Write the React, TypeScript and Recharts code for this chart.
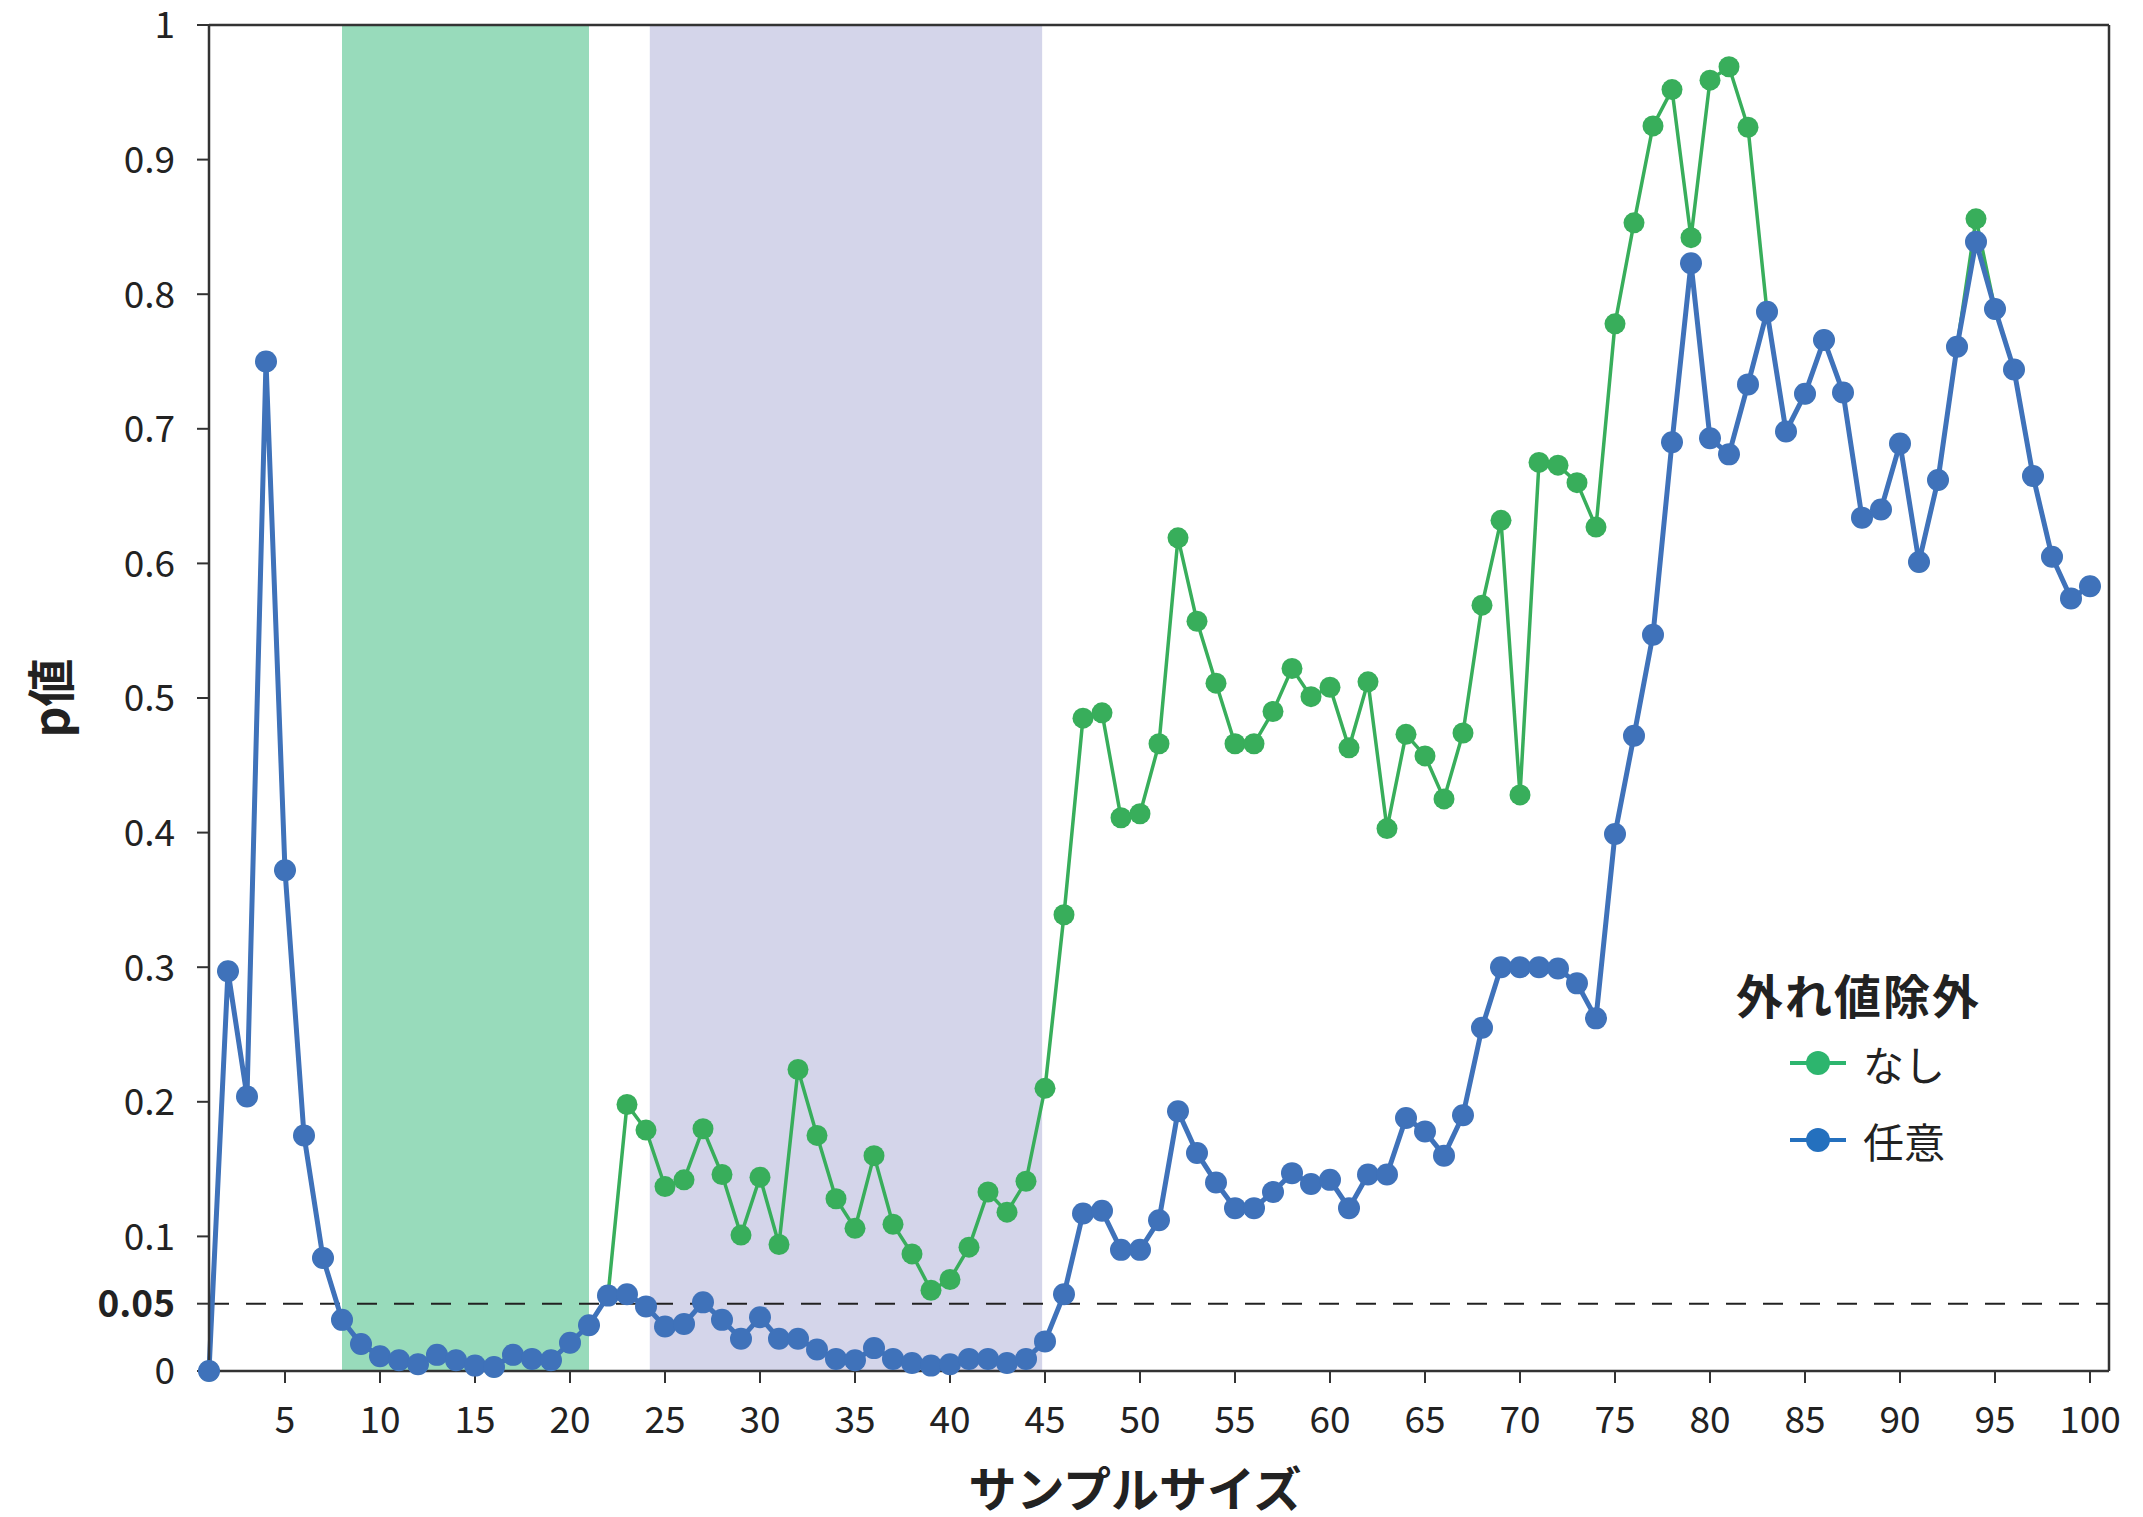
import { LineChart, Line, XAxis, YAxis, ReferenceArea, ReferenceLine } from 'recharts';

const FONT = "'Noto Sans CJK JP', 'Noto Sans', sans-serif";

// sample size 1..100 (category index only)
const sampleSizes = Array.from({ length: 100 }, (_, i) => i + 1);

// 外れ値除外: 任意
const pAny = [
  0, 0.297, 0.204, 0.75, 0.372, 0.175, 0.084, 0.038, 0.02, 0.011,
  0.008, 0.005, 0.012, 0.008, 0.004, 0.003, 0.012, 0.009, 0.008, 0.021,
  0.034, 0.056, 0.057, 0.048, 0.033, 0.035, 0.051, 0.038, 0.024, 0.04,
  0.024, 0.024, 0.016, 0.009, 0.008, 0.017, 0.009, 0.006, 0.004, 0.005,
  0.009, 0.009, 0.006, 0.009, 0.022, 0.057, 0.117, 0.119, 0.09, 0.09,
  0.112, 0.193, 0.162, 0.14, 0.121, 0.121, 0.133, 0.147, 0.139, 0.142,
  0.121, 0.146, 0.146, 0.188, 0.178, 0.16, 0.19, 0.255, 0.3, 0.3,
  0.3, 0.299, 0.288, 0.262, 0.399, 0.472, 0.547, 0.69, 0.823, 0.693,
  0.681, 0.733, 0.787, 0.698, 0.726, 0.766, 0.727, 0.634, 0.64, 0.689,
  0.601, 0.662, 0.761, 0.839, 0.789, 0.744, 0.665, 0.605, 0.574, 0.583,
];

// 外れ値除外: なし
const pNone = [
  0, 0.297, 0.204, 0.75, 0.372, 0.175, 0.084, 0.038, 0.02, 0.011,
  0.008, 0.005, 0.012, 0.008, 0.004, 0.003, 0.012, 0.009, 0.008, 0.021,
  0.034, 0.056, 0.198, 0.179, 0.137, 0.142, 0.18, 0.146, 0.101, 0.144,
  0.094, 0.224, 0.175, 0.128, 0.106, 0.16, 0.109, 0.087, 0.06, 0.068,
  0.092, 0.133, 0.118, 0.141, 0.21, 0.339, 0.485, 0.489, 0.411, 0.414,
  0.466, 0.619, 0.557, 0.511, 0.466, 0.466, 0.49, 0.522, 0.501, 0.508,
  0.463, 0.512, 0.403, 0.473, 0.457, 0.425, 0.474, 0.569, 0.632, 0.428,
  0.675, 0.673, 0.66, 0.627, 0.778, 0.853, 0.925, 0.952, 0.842, 0.959,
  0.969, 0.924, 0.787, 0.698, 0.726, 0.766, 0.727, 0.634, 0.64, 0.689,
  0.601, 0.662, 0.761, 0.856, 0.789, 0.744, 0.665, 0.605, 0.574, 0.583,
];

const xTicks = [5, 10, 15, 20, 25, 30, 35, 40, 45, 50, 55, 60, 65, 70, 75, 80, 85, 90, 95, 100];
const yTicks = [0, 0.05, 0.1, 0.2, 0.3, 0.4, 0.5, 0.6, 0.7, 0.8, 0.9, 1];

const greenBand = [8, 21];
const purpleBand = [24.2, 44.85];

const legendItems = [
  { name: 'なし', color: '#2DB56E' },
  { name: '任意', color: '#2470BE' },
];

const data = sampleSizes.map((n, i) => ({ n, none: pNone[i], any: pAny[i] }));

const YTick = ({ x, y, payload }: any) => (
  <text
    x={x - 20}
    y={y}
    dy="0.36em"
    textAnchor="end"
    fontSize={37}
    fontFamily={FONT}
    fontWeight={payload.value === 0.05 ? 700 : 400}
    fill="#222"
  >
    {String(payload.value)}
  </text>
);

const XTick = ({ x, y, payload }: any) => (
  <text x={x} y={y} dy={48} textAnchor="middle" fontSize={37} fontFamily={FONT} fill="#222">
    {payload.value}
  </text>
);

const LegendBox = () => (
  <div style={{ position: 'absolute', left: 1700, top: 940, width: 330, height: 240, fontFamily: FONT, color: '#222' }}>
    <div style={{ position: 'absolute', left: 36, top: 26, fontSize: 47, fontWeight: 700, lineHeight: '56px', letterSpacing: 2, whiteSpace: 'nowrap' }}>
      外れ値除外
    </div>
    {legendItems.map((item, i) => {
      const cy = 123 + i * 77;
      return (
        <div key={item.name}>
          <svg style={{ position: 'absolute', left: 90, top: cy - 20 }} width={56} height={40}>
            <line x1={0} y1={20} x2={56} y2={20} stroke={item.color} strokeWidth={4} />
            <circle cx={28} cy={20} r={12} fill={item.color} />
          </svg>
          <div style={{ position: 'absolute', left: 163, top: cy - 25, fontSize: 41, lineHeight: '50px', whiteSpace: 'nowrap' }}>
            {item.name}
          </div>
        </div>
      );
    })}
  </div>
);

export default function App() {
  return (
    <div style={{ position: 'absolute', left: 0, top: 0, width: 2143, height: 1517, background: '#fff' }}>
      <LineChart width={2143} height={1517} data={data} margin={{ top: 25, right: 34, left: 0, bottom: 0 }}>
        <ReferenceArea x1={greenBand[0]} x2={greenBand[1]} fill="#98DBBB" fillOpacity={1} stroke="none" />
        <ReferenceArea x1={purpleBand[0]} x2={purpleBand[1]} fill="#D4D5EA" fillOpacity={1} stroke="none" />
        <XAxis
          dataKey="n"
          type="number"
          domain={[1, 101]}
          ticks={xTicks}
          interval={0}
          height={146}
          tickSize={12}
          tick={<XTick />}
          axisLine={{ stroke: '#333', strokeWidth: 2.5 }}
          tickLine={{ stroke: '#333', strokeWidth: 2 }}
          label={{
            content: () => (
              <text x={1135} y={1486} textAnchor="middle" dominantBaseline="central" fontSize={48} fontWeight={700} fontFamily={FONT} fill="#222">
                サンプルサイズ
              </text>
            ),
          }}
        />
        <YAxis
          type="number"
          domain={[0, 1]}
          ticks={yTicks}
          interval={0}
          width={209}
          tickSize={12}
          tick={<YTick />}
          axisLine={{ stroke: '#333', strokeWidth: 2.5 }}
          tickLine={{ stroke: '#333', strokeWidth: 2 }}
          label={{
            content: () => (
              <text x={48} y={698} transform="rotate(-90 48 698)" textAnchor="middle" dominantBaseline="central" fontSize={48} fontWeight={700} fontFamily={FONT} fill="#222">
                p値
              </text>
            ),
          }}
        />
        <ReferenceLine y={1} stroke="#333" strokeWidth={2.5} />
        <ReferenceLine x={101} stroke="#333" strokeWidth={2.5} />
        <ReferenceLine y={0.05} stroke="#222" strokeWidth={2} strokeDasharray="20 17" />
        <Line
          dataKey="none"
          name="なし"
          stroke="#38AE5B"
          strokeWidth={3.5}
          dot={{ r: 10.5, fill: '#38AE5B', stroke: 'none' }}
          activeDot={false}
          isAnimationActive={false}
        />
        <Line
          dataKey="any"
          name="任意"
          stroke="#3F72BA"
          strokeWidth={5}
          dot={{ r: 11, fill: '#3F72BA', stroke: 'none' }}
          activeDot={false}
          isAnimationActive={false}
        />
      </LineChart>
      <LegendBox />
    </div>
  );
}
